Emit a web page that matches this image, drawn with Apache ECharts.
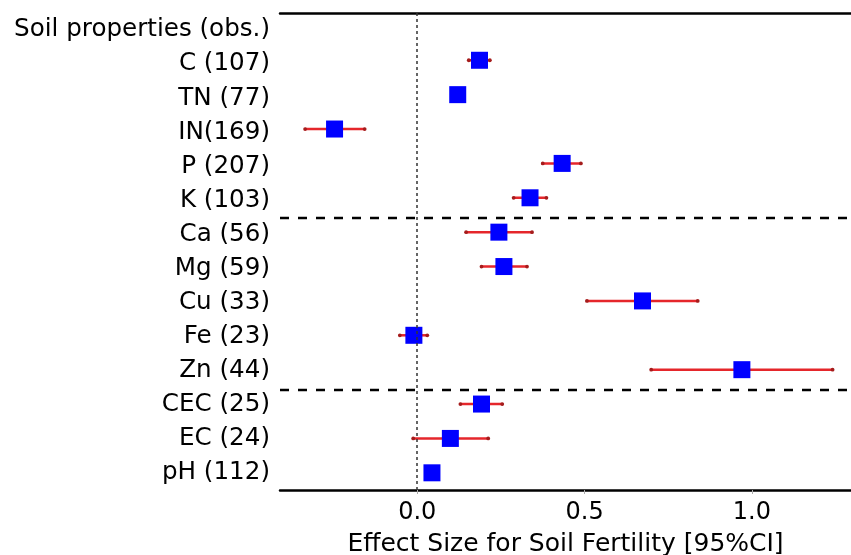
<!DOCTYPE html>
<html><head><meta charset="utf-8">
<script src="https://cdn.jsdelivr.net/npm/echarts@6/dist/echarts.min.js"></script>
<style>html,body{margin:0;padding:0;background:#fff}#c{width:851px;height:555px}</style>
</head><body><div id="c"></div>
<script>
const header = 'Soil properties (obs.)';
const categories = ['C (107)','TN (77)','IN(169)','P (207)','K (103)','Ca (56)','Mg (59)','Cu (33)','Fe (23)','Zn (44)','CEC (25)','EC (24)','pH (112)'];
const effect = [0.186, 0.121, -0.247, 0.433, 0.337, 0.244, 0.259, 0.673, -0.010, 0.970, 0.192, 0.099, 0.044];
const ciLow  = [0.154, 0.105, -0.335, 0.375, 0.288, 0.146, 0.192, 0.507, -0.052, 0.699, 0.129, -0.012, 0.030];
const ciHigh = [0.217, 0.137, -0.157, 0.489, 0.386, 0.343, 0.328, 0.838, 0.030, 1.241, 0.254, 0.212, 0.058];
const xTicks = [0, 0.5, 1.0];
const groupEnds = [5, 10]; // separators after K (row 5) and Zn (row 10)

const FONT = 'DejaVu Sans';
const rows = categories.map((c, i) => i + 1);
const pointData = effect.map((v, i) => [v, rows[i]]);
const ciData = rows.map((r, i) => [r, ciLow[i], ciHigh[i]]);
const sepPos = groupEnds.map(g => g + 0.59);

const chart = echarts.init(document.getElementById('c'), null, {renderer: 'canvas'});
chart.setOption({
  animation: false,
  backgroundColor: '#fff',
  grid: {left: 280, right: 0, top: 13, bottom: 65, containLabel: false, outerBoundsMode: 'none'},
  xAxis: [
    {
      type: 'value', min: -0.41, max: 1.296, position: 'bottom',
      axisLine: {show: true, onZero: false, lineStyle: {color: '#000', width: 2.5}},
      axisTick: {show: true, customValues: xTicks, length: 4, lineStyle: {color: '#aaa', width: 1}},
      axisLabel: {customValues: xTicks, formatter: v => v.toFixed(1), fontSize: 24, color: '#000', margin: 11, fontFamily: FONT},
      splitLine: {show: false},
      name: 'Effect Size for Soil Fertility [95%CI]',
      nameLocation: 'middle', nameGap: 42, nameMoveOverlap: false,
      nameTextStyle: {fontSize: 25, color: '#000', fontFamily: FONT}
    },
    {
      type: 'value', min: -0.41, max: 1.296, position: 'top',
      axisLine: {show: true, onZero: false, lineStyle: {color: '#000', width: 2.5}},
      axisTick: {show: false}, axisLabel: {show: false}, splitLine: {show: false}
    }
  ],
  yAxis: [
    {type: 'value', inverse: true, min: -0.375, max: 13.5, show: false, splitLine: {show: false}},
    {
      type: 'category', inverse: true, position: 'left',
      data: [header].concat(categories),
      axisLine: {show: false}, axisTick: {show: false}, splitLine: {show: false},
      axisLabel: {fontSize: 24.6, color: '#000', margin: 10, fontFamily: FONT}
    }
  ],
  series: [
    {
      type: 'custom', xAxisIndex: 0, yAxisIndex: 0,
      encode: {x: [1, 2], y: 0},
      data: ciData,
      renderItem: function (params, api) {
        const y = api.value(0), lo = api.value(1), hi = api.value(2);
        const p1 = api.coord([lo, y]);
        const p2 = api.coord([hi, y]);
        return {type: 'group', children: [
          {type: 'line', shape: {x1: p1[0], y1: p1[1], x2: p2[0], y2: p2[1]}, style: {stroke: '#e5262b', lineWidth: 2.5}},
          {type: 'circle', shape: {cx: p1[0], cy: p1[1], r: 1.9}, style: {fill: '#a51c1c'}},
          {type: 'circle', shape: {cx: p2[0], cy: p2[1], r: 1.9}, style: {fill: '#a51c1c'}}
        ]};
      },
      z: 2
    },
    {
      type: 'scatter', xAxisIndex: 0, yAxisIndex: 0,
      symbol: 'rect', symbolSize: 17,
      itemStyle: {color: '#0000ff', opacity: 1},
      data: pointData,
      z: 3,
      markLine: {
        silent: true, symbol: 'none', label: {show: false},
        data: [
          {xAxis: 0, lineStyle: {type: [3, 3], color: '#333', width: 1.5}},
          ...sepPos.map(p => ({yAxis: p, lineStyle: {type: [9, 9], color: '#000', width: 2.3}}))
        ]
      }
    }
  ]
});
</script></body></html>
